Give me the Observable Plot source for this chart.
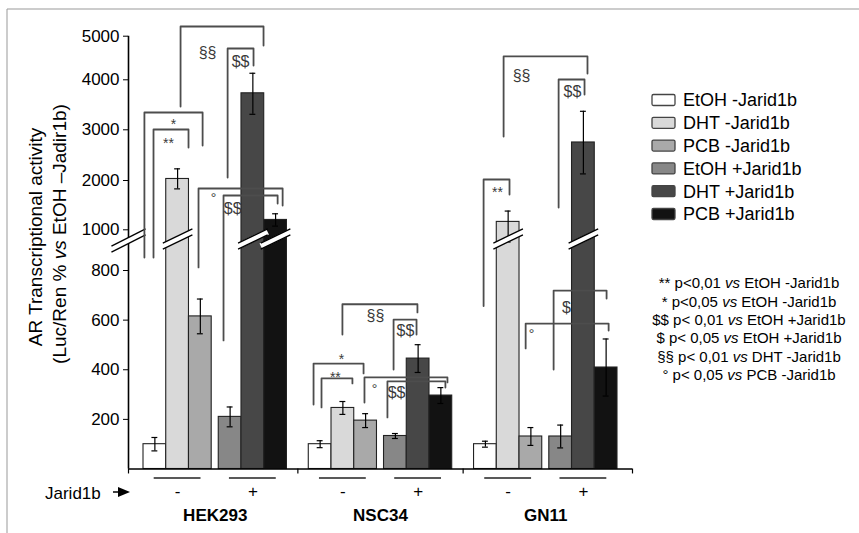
<!DOCTYPE html>
<html><head><meta charset="utf-8">
<script src="https://cdn.jsdelivr.net/npm/d3@7"></script>
<script src="https://cdn.jsdelivr.net/npm/@observablehq/plot@0.6"></script>
<style>
body{margin:0;background:#fff;}
#chart{position:relative;width:859px;height:533px;}
</style></head><body><div id="chart"></div>
<script>
// ---------- data ----------
const cells = ["HEK293", "NSC34", "GN11"];
const treatments = ["EtOH -Jarid1b", "DHT -Jarid1b", "PCB -Jarid1b", "EtOH +Jarid1b", "DHT +Jarid1b", "PCB +Jarid1b"];
const jaridLevels = ["-", "+"];
const meanHEK293 = [100, 2030, 615, 210, 3730, 1200];
const errHEK293  = [27, 200, 70, 40, 420, 125];
const meanNSC34  = [100, 246, 195, 133, 445, 296];
const errNSC34   = [14, 26, 28, 10, 56, 32];
const meanGN11   = [100, 1160, 131, 131, 2750, 409];
const errGN11    = [12, 220, 36, 46, 620, 115];
const yTicks = [200, 400, 600, 800, 1000, 2000, 3000, 4000, 5000];

// significance brackets (x in bar slots within a cell group, y in data units)
const bracketCell  = [0,0,0,0,0,0, 1,1,1,1,1,1, 2,2,2,2,2];
const bracketLabel = ["§§","$$","*","**","°","$$", "§§","$$","*","**","°","$$", "§§","$$","**","$","°"];
const bracketFrom  = [1.63,3.70,0.04,0.44,2.42,3.52, 1.48,3.73,0.21,0.56,2.45,3.46, 1.30,3.72,0.42,3.50,2.27];
const bracketTo    = [5.28,4.84,2.60,1.98,6.12,5.90, 4.78,4.74,2.41,1.92,6.10,6.01, 4.99,4.86,1.56,5.83,5.92];
const bracketTop   = [5223,4718,3346,3006,1838,1696, 664,602,425,365,369,353, 4535,4007,2020,719,586];
const bracketLeftEnd  = [3466,2059,864,864,815,518, 542,401,260,248,268,208, 2868,1452,657,401,486];
const bracketRightEnd = [4787,4328,2690,2651,1493,1533, 631,542,385,345,349,328, 4145,3706,1716,687,558];
const bracketLabelX = [2.82,4.27,1.32,1.10,3.08,3.92, 2.93,4.25,1.44,1.17,2.89,3.86, 2.09,4.33,1.03,4.07,2.53];
const bracketLabelY = [4626,4420,3186,2808,1716,1432, 618,558,457,385,336,308, 4099,3755,1838,651,558];

const noteLines = [
  ["** p<0,01 ", "vs", " EtOH -Jarid1b"],
  ["* p<0,05 ", "vs", " EtOH -Jarid1b"],
  ["$$ p< 0,01 ", "vs", " EtOH +Jarid1b"],
  ["$ p< 0,05 ", "vs", " EtOH +Jarid1b"],
  ["§§ p< 0,01 ", "vs", " DHT -Jarid1b"],
  ["° p< 0,05 ", "vs", " PCB -Jarid1b"]
];

// ---------- styling / layout ----------
const colors = ["#ffffff", "#d9d9d9", "#a9a9a9", "#878787", "#474747", "#121212"];
const FONT = "'Liberation Sans', Arial, Helvetica, sans-serif";
const G = 7.27, GAP = 0.31;
const slot = (ci, ti) => ci * G + ti + (ti >= 3 ? GAP : 0);
const xmin = -0.66, xmax = 2 * G + 6 + GAP + 0.66;
// broken y axis: piecewise transform of values into display units (0 = baseline)
const Y0 = 468.5;
const brkDomain = [0, 800, 1000, 2000, 3000, 4000, 5000];
const brkPx     = [468.5, 270, 229.3, 180, 129.3, 79.3, 35.7];
const brk = d3.scaleLinear().domain(brkDomain).range(brkPx.map(p => Y0 - p));

const means = [meanHEK293, meanNSC34, meanGN11];
const errs = [errHEK293, errNSC34, errGN11];
const bars = cells.flatMap((c, ci) => treatments.map((t, ti) => ({
  cell: c, treatment: t, x1: slot(ci, ti), x2: slot(ci, ti) + 1, xc: slot(ci, ti) + 0.5,
  mean: means[ci][ti], err: errs[ci][ti]
})));
const broken = bars.filter(d => d.mean > 1000);
const subgroups = cells.flatMap((c, ci) => jaridLevels.map((j, ji) => ({cell: c, j, xc: slot(ci, ji * 3) + 1.5})));
const groups = cells.map((c, ci) => ({cell: c, xc: slot(ci, 0) + 3 + GAP / 2}));
const bounds = [xmin, ...[1, 2].map(ci => slot(ci, 0) - (G - 6 - GAP) / 2), xmax];
const brackets = bracketLabel.map((label, i) => {
  const off = bracketCell[i] * G;
  return {id: i, label, x1: off + bracketFrom[i], x2: off + bracketTo[i], top: bracketTop[i],
    lb: bracketLeftEnd[i], rb: bracketRightEnd[i], lx: off + bracketLabelX[i], ly: bracketLabelY[i]};
});
const bracketPts = brackets.flatMap(b => [
  {id: b.id, x: b.x1, y: b.lb}, {id: b.id, x: b.x1, y: b.top},
  {id: b.id, x: b.x2, y: b.top}, {id: b.id, x: b.x2, y: b.rb}
]);
const isBig = b => b.label.startsWith("§") || b.label.startsWith("$");
const bigLabels = brackets.filter(isBig);
const smallLabels = brackets.filter(b => !isBig(b));

const slashOpts = {x1: d => d.x1 - 0.15, x2: d => d.x2 + 0.15, y1: 920, y2: 990};
const axisSlash = {x1: -1.41, x2: 0.09, y1: 905, y2: 990};

const plot = Plot.plot({
  width: 859, height: 533,
  marginLeft: 128, marginRight: 859 - 632, marginTop: 35.7, marginBottom: 533 - 468.5,
  style: {fontFamily: FONT, fontSize: "17px", color: "#000", background: "transparent", overflow: "visible"},
  x: {domain: [xmin, xmax], axis: null},
  y: {transform: brk, domain: [0, Y0 - 35.7], ticks: yTicks.map(v => brk(v)),
      tickFormat: d => String(Math.round(brk.invert(d))), tickSize: 5, tickPadding: 4, label: null},
  color: {domain: treatments, range: colors},
  marks: [
    Plot.rect(bars, {x1: "x1", x2: "x2", y1: 0, y2: "mean", fill: "treatment", stroke: "#222", strokeWidth: 1.1}),
    Plot.ruleX(bars, {x: "xc", y1: d => d.mean - d.err, y2: d => d.mean + d.err, stroke: "#000", strokeWidth: 1.2}),
    Plot.ruleY(bars, {y: d => d.mean + d.err, x1: d => d.xc - 0.13, x2: d => d.xc + 0.13, stroke: "#000", strokeWidth: 1.2}),
    Plot.ruleY(bars, {y: d => d.mean - d.err, x1: d => d.xc - 0.13, x2: d => d.xc + 0.13, stroke: "#000", strokeWidth: 1.2}),
    Plot.ruleX([xmin], {y1: 0, y2: 5000, stroke: "#000", strokeWidth: 1.6}),
    Plot.ruleY([0], {x1: xmin, x2: xmax, stroke: "#000", strokeWidth: 1.6}),
    Plot.ruleX(bounds, {y1: 0, y2: -20, stroke: "#000", strokeWidth: 1.2}),
    // break marks on bars
    Plot.link(broken, {...slashOpts, stroke: "#fff", strokeWidth: 6}),
    Plot.link(broken, {...slashOpts, stroke: "#000", strokeWidth: 1.3, dy: -3}),
    Plot.link(broken, {...slashOpts, stroke: "#000", strokeWidth: 1.3, dy: 3}),
    // break mark on axis
    Plot.link([0], {...axisSlash, stroke: "#fff", strokeWidth: 6}),
    Plot.link([0], {...axisSlash, stroke: "#000", strokeWidth: 1.3, dy: -3}),
    Plot.link([0], {...axisSlash, stroke: "#000", strokeWidth: 1.3, dy: 3}),
    // significance brackets
    Plot.line(bracketPts, {x: "x", y: "y", z: "id", stroke: "#4d4d4d", strokeWidth: 1.8}),
    Plot.text(bigLabels, {x: "lx", y: "ly", text: "label", fontSize: 16, fill: "#3a3a3a", lineAnchor: "middle"}),
    Plot.text(smallLabels, {x: "lx", y: "ly", text: "label", fontSize: 14, fill: "#3a3a3a", lineAnchor: "middle", dy: 4}),
    // Jarid1b -/+ marks
    Plot.ruleY(subgroups, {y: 0, x1: d => d.xc - 1.03, x2: d => d.xc + 1.03, dy: 9, stroke: "#222", strokeWidth: 1.6}),
    Plot.text(subgroups, {x: "xc", y: 0, text: "j", dy: 23, fontSize: 17, lineAnchor: "middle"}),
    Plot.text(groups, {x: "xc", y: 0, text: "cell", dy: 47, fontSize: 17, fontWeight: "bold", lineAnchor: "middle"})
  ]
});
document.getElementById("chart").appendChild(plot);

// ---------- extra text: axis title, legend, notes, frame ----------
const svg = d3.select(plot);
svg.append("line").attr("x1", 7).attr("y1", 9).attr("x2", 859).attr("y2", 9).attr("stroke", "#999");
svg.append("line").attr("x1", 7).attr("y1", 9).attr("x2", 7).attr("y2", 533).attr("stroke", "#999");

svg.append("text").attr("transform", "translate(42,237) rotate(-90)").attr("text-anchor", "middle")
  .attr("font-size", 19).attr("fill", "#000").text("AR Transcriptional activity");
const t2 = svg.append("text").attr("transform", "translate(66,234) rotate(-90)").attr("text-anchor", "middle")
  .attr("font-size", 19).attr("fill", "#000");
t2.append("tspan").text("(Luc/Ren % ");
t2.append("tspan").attr("font-style", "italic").text("vs");
t2.append("tspan").text(" EtOH –Jadir1b)");

const leg = svg.append("g");
treatments.forEach((t, i) => {
  const cy = 100 + i * 22.8;
  leg.append("rect").attr("x", 652).attr("y", cy - 5.5).attr("width", 23).attr("height", 11)
    .attr("rx", 1.5).attr("fill", colors[i]).attr("stroke", "#444").attr("stroke-width", 1.3);
  leg.append("text").attr("x", 683).attr("y", cy).attr("dy", "0.35em").attr("text-anchor", "start")
    .attr("font-size", 18).attr("fill", "#000").text(t);
});

const notes = svg.append("g");
noteLines.forEach((parts, i) => {
  const tx = notes.append("text").attr("x", 749).attr("y", 283 + i * 18.4).attr("dy", "0.35em")
    .attr("text-anchor", "middle").attr("font-size", 15).attr("fill", "#000");
  tx.append("tspan").text(parts[0]);
  tx.append("tspan").attr("font-style", "italic").text(parts[1]);
  tx.append("tspan").text(parts[2]);
});

svg.append("text").attr("x", 45).attr("y", 493).attr("dy", "0.35em").attr("text-anchor", "start")
  .attr("font-size", 17).attr("fill", "#000").text("Jarid1b");
svg.append("line").attr("x1", 113).attr("y1", 492).attr("x2", 120).attr("y2", 492).attr("stroke", "#000").attr("stroke-width", 1.5);
svg.append("path").attr("d", "M118,487 L130,492 L118,497 Z").attr("fill", "#000");
</script></body></html>
